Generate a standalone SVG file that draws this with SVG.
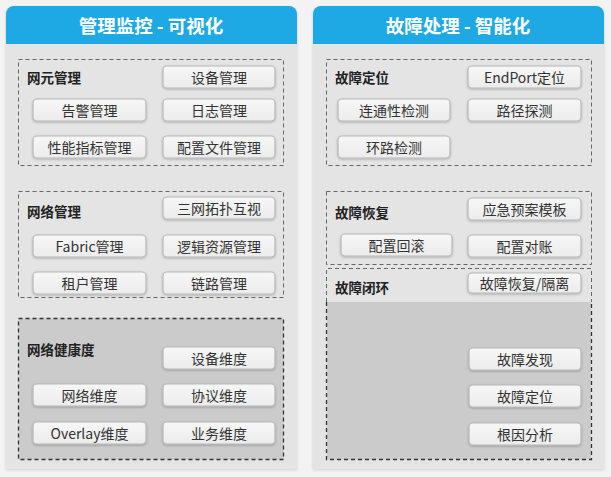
<svg xmlns="http://www.w3.org/2000/svg" width="611" height="477" viewBox="0 0 611 477">
<defs>
<linearGradient id="btn" x1="0" y1="0" x2="0" y2="1">
<stop offset="0" stop-color="#f7f7f7"/>
<stop offset="1" stop-color="#ececec"/>
</linearGradient>
<filter id="sh" x="-10%" y="-10%" width="120%" height="130%">
<feDropShadow dx="0" dy="1" stdDeviation="1" flood-color="#000" flood-opacity="0.25"/>
</filter>
<filter id="psh" x="-5%" y="-5%" width="110%" height="110%">
<feDropShadow dx="0" dy="1" stdDeviation="1.5" flood-color="#000" flood-opacity="0.15"/>
</filter>
</defs>
<style>
.panel{fill:#e4e4e4;}
.head{fill:#1ea9e4;}
.htxt{font-family:"Noto Sans CJK SC","Noto Sans",sans-serif;font-size:18.5px;font-weight:bold;fill:#ffffff;text-anchor:middle;}
.dash{fill:none;stroke:#666;stroke-width:1;stroke-dasharray:4,3;}
.dashd{fill:none;stroke:#333;stroke-width:1.3;stroke-dasharray:4,3;}
.dark{fill:#cbcbcb;}
.btn{fill:url(#btn);stroke:#b8b8b8;stroke-width:1.2;filter:url(#sh);}
.btxt{font-family:"Noto Sans CJK SC","Noto Sans",sans-serif;font-size:14px;fill:#333;text-anchor:middle;dominant-baseline:central;}
.lbl{font-family:"Noto Sans CJK SC","Noto Sans",sans-serif;font-size:13.5px;font-weight:bold;fill:#222;dominant-baseline:central;}
</style>
<rect x="0" y="0" width="611" height="477" fill="#f3f3f3"/>

<g id="panel-left">
<path class="panel" filter="url(#psh)" d="M6,14 a8,8 0 0 1 8,-8 h275 a8,8 0 0 1 8,8 V469 H6 Z"/>
<path class="head" d="M6,14 a8,8 0 0 1 8,-8 h275 a8,8 0 0 1 8,8 V44 H6 Z"/>
<text class="htxt" x="151" y="33">管理监控 - 可视化</text>
</g>

<g id="panel-right">
<path class="panel" filter="url(#psh)" d="M313,14 a8,8 0 0 1 8,-8 h275 a8,8 0 0 1 8,8 V469 H313 Z"/>
<path class="head" d="M313,14 a8,8 0 0 1 8,-8 h275 a8,8 0 0 1 8,8 V44 H313 Z"/>
<text class="htxt" x="458" y="33">故障处理 - 智能化</text>
</g>

<g id="grp-nem">
<rect class="dash" x="18.5" y="59.5" width="265" height="106"/>
<text class="lbl" x="27" y="77">网元管理</text>
<g id="n-dev"><rect class="btn" x="163" y="66" width="112" height="22" rx="4"/><text class="btxt" x="219" y="77">设备管理</text></g>
<g id="n-alarm"><rect class="btn" x="33" y="99" width="113" height="22" rx="4"/><text class="btxt" x="89.5" y="110">告警管理</text></g>
<g id="n-log"><rect class="btn" x="163" y="99" width="112" height="22" rx="4"/><text class="btxt" x="219" y="110">日志管理</text></g>
<g id="n-perf"><rect class="btn" x="33" y="136" width="113" height="22" rx="4"/><text class="btxt" x="89.5" y="147">性能指标管理</text></g>
<g id="n-cfg"><rect class="btn" x="163" y="136" width="112" height="22" rx="4"/><text class="btxt" x="219" y="147">配置文件管理</text></g>
</g>

<g id="grp-net">
<rect class="dash" x="18.5" y="191.5" width="265" height="106"/>
<text class="lbl" x="27" y="211">网络管理</text>
<g id="n-topo"><rect class="btn" x="163" y="197" width="112" height="22" rx="4"/><text class="btxt" x="219" y="208">三网拓扑互视</text></g>
<g id="n-fabric"><rect class="btn" x="33" y="235" width="113" height="22" rx="4"/><text class="btxt" x="89.5" y="246">Fabric管理</text></g>
<g id="n-logic"><rect class="btn" x="163" y="235" width="112" height="22" rx="4"/><text class="btxt" x="219" y="246">逻辑资源管理</text></g>
<g id="n-tenant"><rect class="btn" x="33" y="272" width="113" height="22" rx="4"/><text class="btxt" x="89.5" y="283">租户管理</text></g>
<g id="n-link"><rect class="btn" x="163" y="272" width="112" height="22" rx="4"/><text class="btxt" x="219" y="283">链路管理</text></g>
</g>

<g id="grp-health">
<rect class="dark" x="18.5" y="318.5" width="265" height="141"/>
<rect class="dashd" x="18.5" y="318.5" width="265" height="141"/>
<text class="lbl" x="27" y="349">网络健康度</text>
<g id="n-devdim"><rect class="btn" x="163" y="347" width="112" height="22" rx="4"/><text class="btxt" x="219" y="358">设备维度</text></g>
<g id="n-netdim"><rect class="btn" x="33" y="384" width="113" height="22" rx="4"/><text class="btxt" x="89.5" y="395">网络维度</text></g>
<g id="n-protodim"><rect class="btn" x="163" y="384" width="112" height="22" rx="4"/><text class="btxt" x="219" y="395">协议维度</text></g>
<g id="n-overlay"><rect class="btn" x="33" y="422" width="113" height="22" rx="4"/><text class="btxt" x="89.5" y="433">Overlay维度</text></g>
<g id="n-svcdim"><rect class="btn" x="163" y="422" width="112" height="22" rx="4"/><text class="btxt" x="219" y="433">业务维度</text></g>
</g>

<g id="grp-locate">
<rect class="dash" x="326.5" y="59.5" width="265" height="106"/>
<text class="lbl" x="335" y="77">故障定位</text>
<g id="n-endport"><rect class="btn" x="468" y="66" width="113" height="22" rx="4"/><text class="btxt" x="524.5" y="77">EndPort定位</text></g>
<g id="n-conn"><rect class="btn" x="338" y="99" width="112" height="22" rx="4"/><text class="btxt" x="394" y="110">连通性检测</text></g>
<g id="n-path"><rect class="btn" x="468" y="99" width="113" height="22" rx="4"/><text class="btxt" x="524.5" y="110">路径探测</text></g>
<g id="n-loop"><rect class="btn" x="338" y="136" width="112" height="22" rx="4"/><text class="btxt" x="394" y="147">环路检测</text></g>
</g>

<g id="grp-recover">
<rect class="dash" x="326.5" y="191.5" width="265" height="73"/>
<text class="lbl" x="335" y="212">故障恢复</text>
<g id="n-plan"><rect class="btn" x="468" y="198" width="113" height="22" rx="4"/><text class="btxt" x="524.5" y="209">应急预案模板</text></g>
<g id="n-rollback"><rect class="btn" x="341" y="234" width="111" height="22" rx="4"/><text class="btxt" x="396.5" y="245">配置回滚</text></g>
<g id="n-recon"><rect class="btn" x="468" y="235" width="113" height="22" rx="4"/><text class="btxt" x="524.5" y="246">配置对账</text></g>
</g>

<g id="grp-loop">
<rect class="dark" x="327" y="302" width="264" height="157.5"/>
<path class="dashd" d="M326.5,302 V459.5 H591.5 V302"/>
<path class="dash" d="M326.5,302 V268.5 H591.5 V302"/>
<text class="lbl" x="335" y="287">故障闭环</text>
<g id="n-isolate"><rect class="btn" x="468" y="273" width="113" height="20" rx="4"/><text class="btxt" x="524.5" y="283">故障恢复/隔离</text></g>
<g id="n-discover"><rect class="btn" x="469" y="348" width="112" height="22" rx="4"/><text class="btxt" x="525" y="359">故障发现</text></g>
<g id="n-loc2"><rect class="btn" x="469" y="385" width="112" height="22" rx="4"/><text class="btxt" x="525" y="396">故障定位</text></g>
<g id="n-root"><rect class="btn" x="469" y="423" width="112" height="22" rx="4"/><text class="btxt" x="525" y="434">根因分析</text></g>
</g>

<g id="connectors"></g>
</svg>
